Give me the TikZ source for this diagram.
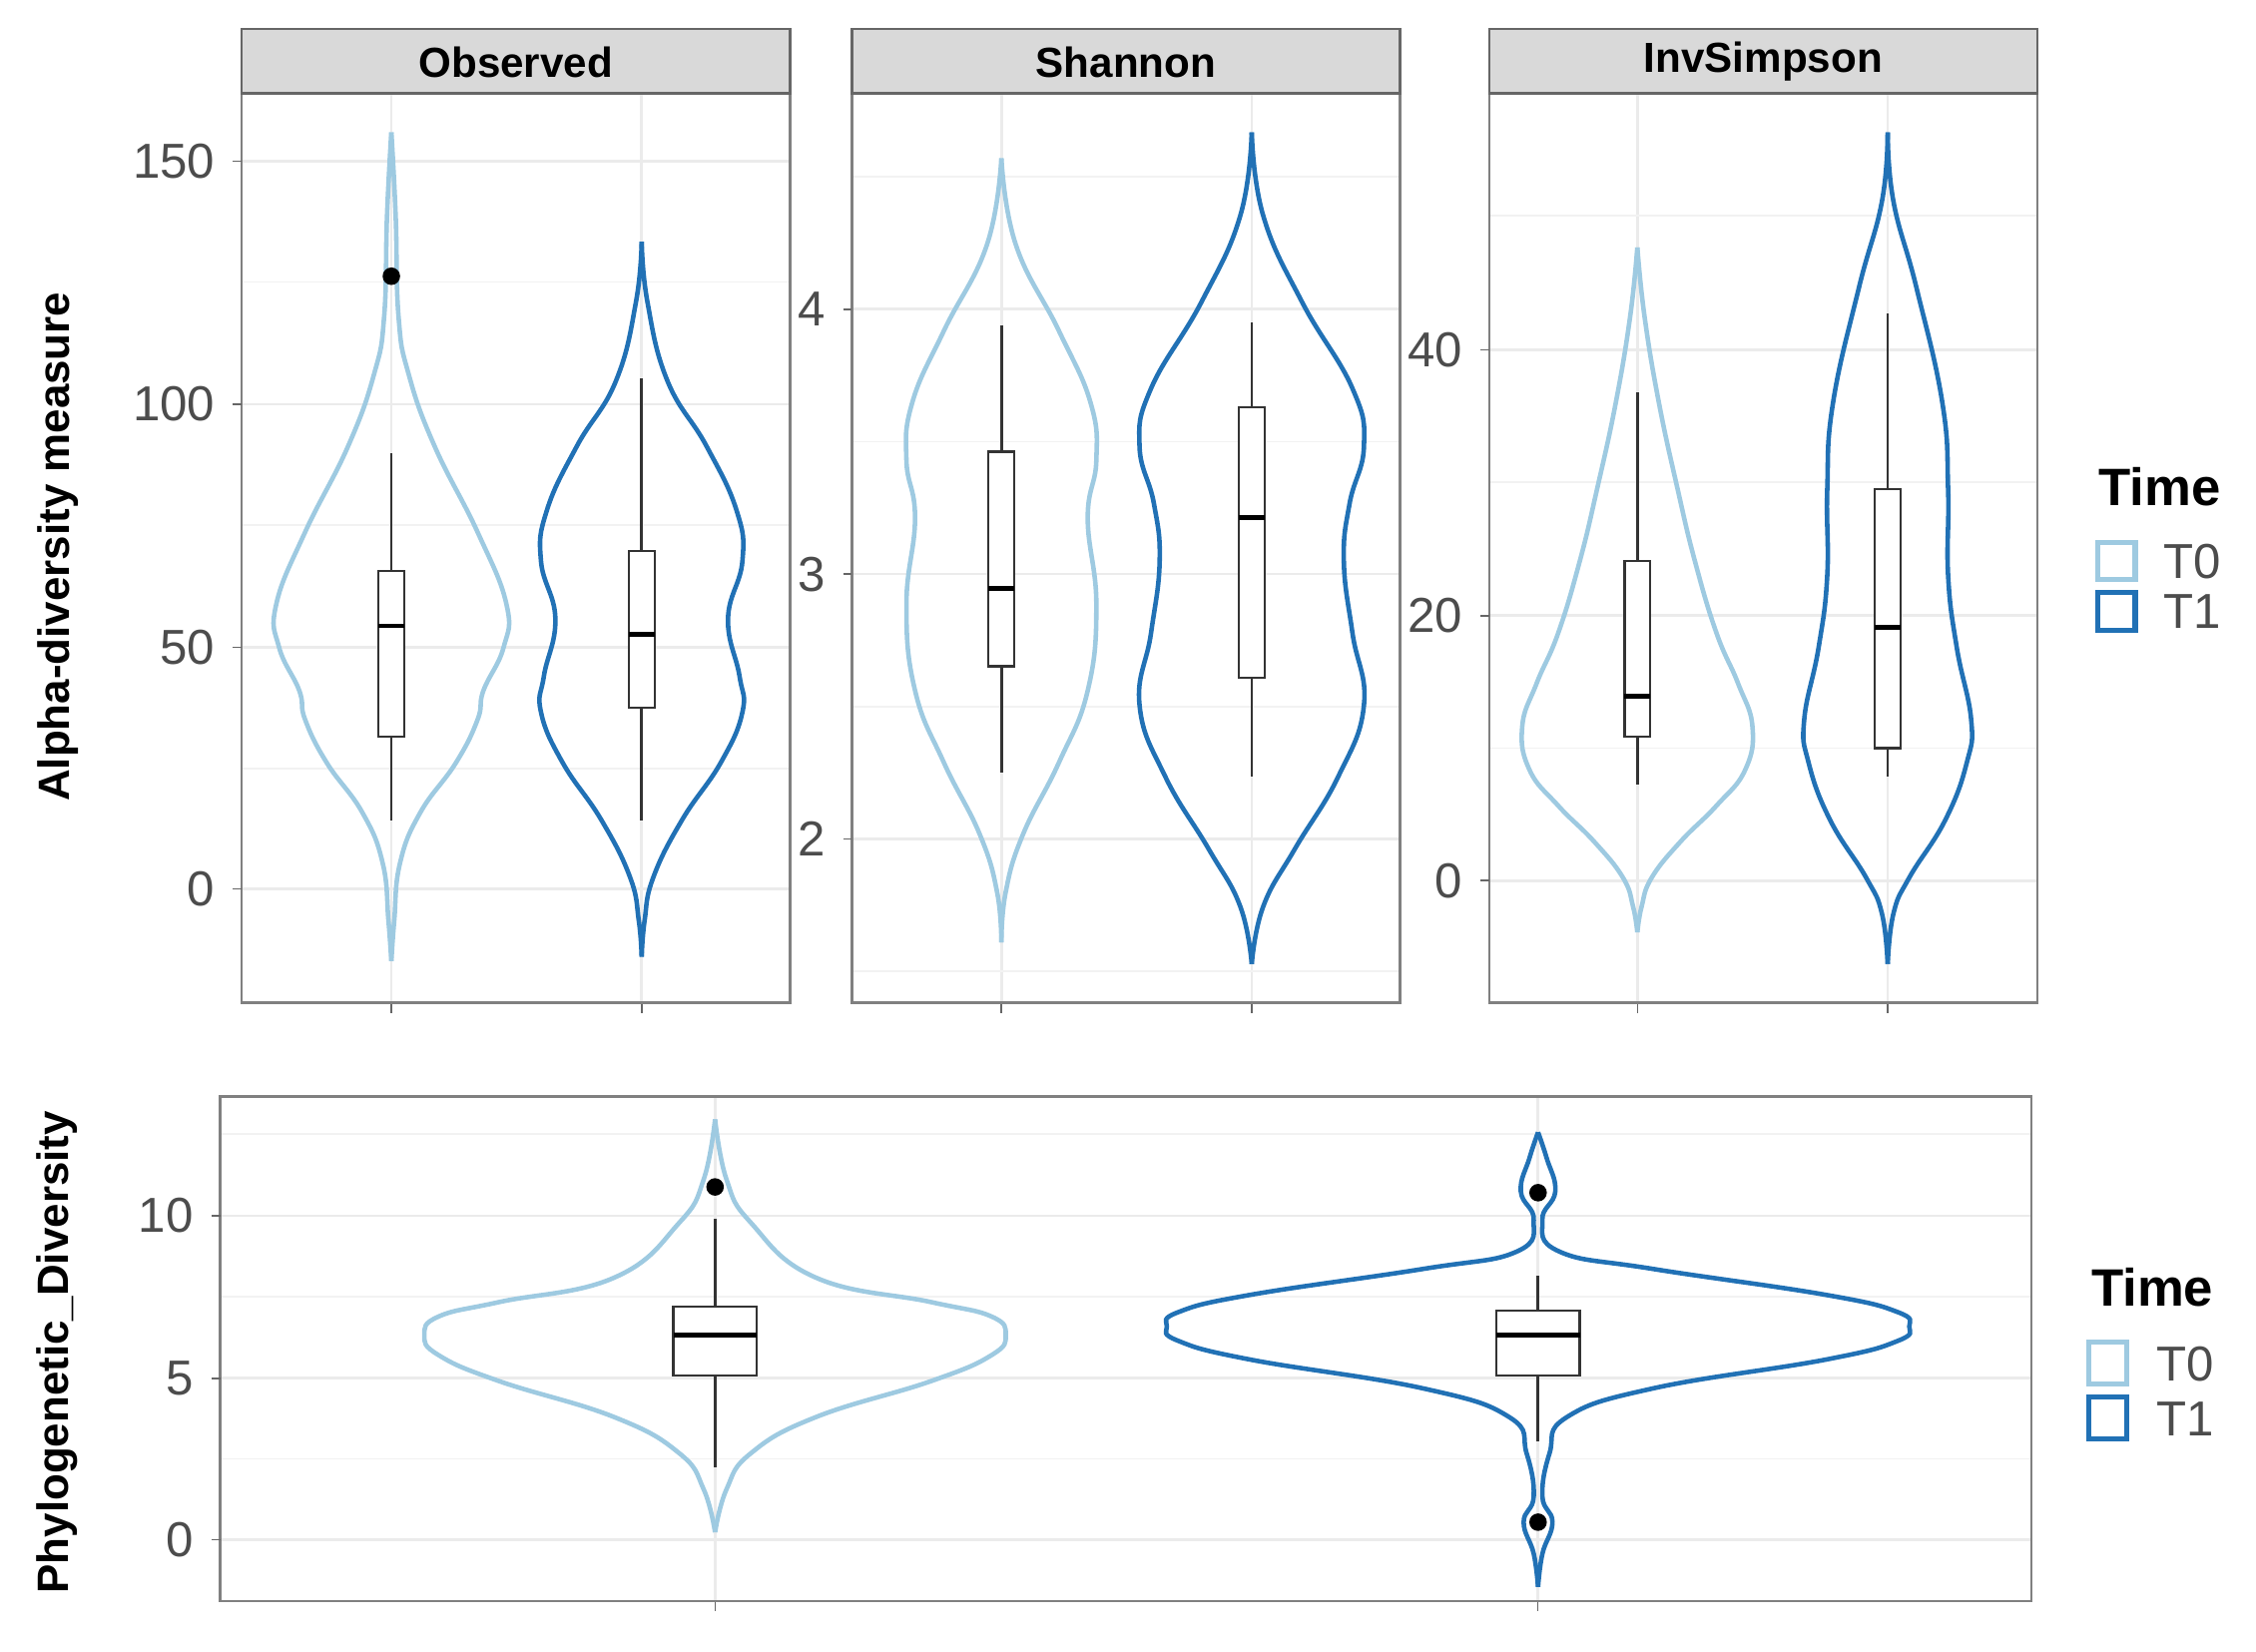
\documentclass[tikz,border=0pt]{standalone}
\usepackage{fontspec}
\setmainfont{Liberation Sans}
\begin{document}
\begin{tikzpicture}[x=0.014413cm,y=-0.014413cm,
  lb/.style={draw=c0,line width=1.3pt},
  db/.style={draw=c1,line width=1.3pt},
  panel/.style={draw=black!50,line width=0.7pt},
  strip/.style={draw=black!60,fill=black!15,line width=0.7pt},
  grid/.style={draw=black!8,line width=0.8pt},
  mgrid/.style={draw=black!5,line width=0.5pt},
  bx/.style={draw=black!80,fill=white,line width=0.7pt},
  med/.style={draw=black,line width=1.4pt},
  wh/.style={draw=black!80,line width=0.8pt},
  tick/.style={font=\fontsize{14}{16}\selectfont,text=black!70,anchor=east},
  st/.style={font=\bfseries\fontsize{12}{14}\selectfont},
  ttl/.style={font=\bfseries\fontsize{12.5}{14}\selectfont,rotate=90},
  dot/.style={fill=black,circle,inner sep=0pt,minimum size=5pt}]
\definecolor{c0}{HTML}{9ECAE1}
\definecolor{c1}{HTML}{2171B5}
\useasboundingbox (0,0) rectangle (1568,1148);
\newcommand\vio[3]{\begin{scope}[shift={(#2,0)}]
 \draw[#1] plot[smooth,tension=0.75] coordinates {#3};
 \draw[#1,xscale=-1] plot[smooth,tension=0.75] coordinates {#3};\end{scope}}
\newcommand\bxp[6]{% cx, wlo, whi, boxtop, boxbot, median
 \draw[wh] (#1,#2) -- (#1,#3);
 \draw[bx] (#1-9,#4) rectangle (#1+9,#5);
 \draw[med] (#1-9,#6) -- (#1+9,#6);}
% ---------- top panels grids
\foreach \xa/\c in {168/272,592/696,1035/1138}{
  \pgfmathsetmacro\d{\c+174}
  \draw[grid] (\c,65) -- (\c,697); \draw[grid] (\d,65) -- (\d,697);
  \draw[black!60] (\c,697) -- (\c,704); \draw[black!60] (\d,697) -- (\d,704);}
\foreach \y in {112,281,450,618}{\draw[grid] (168,\y) -- (549,\y);}
\foreach \y in {196,365,534}{\draw[mgrid] (168,\y) -- (549,\y);}
\foreach \y in {215,399,583}{\draw[grid] (592,\y) -- (973,\y);}
\foreach \y in {123,307,491,675}{\draw[mgrid] (592,\y) -- (973,\y);}
\foreach \y in {243,428,612}{\draw[grid] (1035,\y) -- (1416,\y);}
\foreach \y in {150,335,520}{\draw[mgrid] (1035,\y) -- (1416,\y);}
% violins top
\vio{lb}{272}{(0,92) (3,150) (5,220) (12,260) (30,310) (60,370) (80,420) (78,450) (64,480) (60,500) (45,530) (20,565) (6,600) (2,640) (0,668)}
\vio{db}{446}{(0,168) (4,210) (18,265) (45,310) (66,355) (70,390) (60,430) (68,470) (70,495) (55,530) (28,570) (8,610) (2,640) (0,665)}
\vio{lb}{696}{(0,110) (10,170) (40,230) (62,280) (66,320) (60,360) (66,420) (60,480) (40,530) (15,580) (3,620) (0,655)}
\vio{db}{870}{(0,92) (8,150) (35,210) (70,270) (78,310) (68,350) (64,390) (70,440) (78,490) (60,540) (30,590) (8,630) (0,670)}
\vio{lb}{1138}{(0,172) (5,220) (15,280) (28,340) (40,390) (55,440) (70,475) (80,505) (75,535) (55,560) (30,585) (10,610) (3,630) (0,648)}
\vio{db}{1312}{(0,92) (4,140) (20,200) (38,280) (42,340) (42,400) (48,450) (58,500) (55,530) (40,570) (15,610) (4,635) (0,670)}
\bxp{272}{315}{570}{397}{512}{435}
\bxp{446}{263}{570}{383}{492}{441}
\bxp{696}{226}{537}{314}{463}{409}
\bxp{870}{224}{540}{283}{471}{360}
\bxp{1138}{273}{545}{390}{512}{484}
\bxp{1312}{218}{540}{340}{520}{436}
\node[dot] (o1) at (272,192) {};
% panels and strips
\draw[panel] (168,65) rectangle (549,697);
\draw[panel] (592,65) rectangle (973,697);
\draw[panel] (1035,65) rectangle (1416,697);
\draw[strip] (168,20) rectangle (549,65); \node[st] (s1) at (358.5,43) {Observed};
\draw[strip] (592,20) rectangle (973,65); \node[st] (s2) at (782.5,43) {Shannon};
\draw[strip] (1035,20) rectangle (1416,65); \node[st] (s3) at (1225.5,43) {InvSimpson};
% ticks
\foreach \y/\t in {112/150,281/100,450/50,618/0}{\draw[black!60] (162,\y) -- (168,\y); \node[tick] at (158,\y) {\t};}
\foreach \y/\t in {215/4,399/3,583/2}{\draw[black!60] (586,\y) -- (592,\y); \node[tick] at (582,\y) {\t};}
\foreach \y/\t in {243/40,428/20,612/0}{\draw[black!60] (1029,\y) -- (1035,\y); \node[tick] at (1025,\y) {\t};}
\node[ttl] (yt1) at (40,380) {Alpha-diversity measure};
% ---------- bottom panel
\foreach \y in {845,958,1070}{\draw[grid] (153,\y) -- (1412,\y);}
\foreach \y in {788,901,1014}{\draw[mgrid] (153,\y) -- (1412,\y);}
\draw[grid] (497,762) -- (497,1113); \draw[grid] (1069,762) -- (1069,1113);
\draw[black!60] (497,1113) -- (497,1120); \draw[black!60] (1069,1113) -- (1069,1120);
\vio{lb}{497}{(0,778) (8,820) (25,850) (70,888) (150,905) (192,915) (202,928) (192,942) (150,960) (70,985) (25,1010) (8,1035) (0,1065)}
\vio{db}{1069}{(0,787) (6,805) (12,828) (3,848) (15,870) (80,882) (200,900) (250,912) (258,922) (250,932) (200,945) (80,965) (20,985) (8,1010) (3,1040) (10,1058) (3,1080) (0,1103)}
\draw[wh] (497,847) -- (497,1020); \draw[bx] (468,908) rectangle (526,956); \draw[med] (468,928) -- (526,928);
\draw[wh] (1069,887) -- (1069,1002); \draw[bx] (1040,911) rectangle (1098,956); \draw[med] (1040,928) -- (1098,928);
\node[dot] (o2) at (497,825) {};
\node[dot] (o3) at (1069,829) {};
\node[dot] (o4) at (1069,1058) {};
\draw[panel] (153,762) rectangle (1412,1113);
\foreach \y/\t in {845/10,958/5,1070/0}{\draw[black!60] (147,\y) -- (153,\y); \node[tick] at (143,\y) {\t};}
\node[ttl] (yt2) at (40,940) {Phylogenetic\_Diversity};
% ---------- legends
\node[font=\bfseries\fontsize{15}{17}\selectfont,anchor=west] (lg1) at (1450,338) {Time};
\draw[c0,line width=1.5pt] (1458,377) rectangle (1484,403); \node[tick,anchor=west] (l1a) at (1495,390) {T0};
\draw[c1,line width=1.5pt] (1458,412) rectangle (1484,438); \node[tick,anchor=west] (l1b) at (1495,425) {T1};
\node[font=\bfseries\fontsize{15}{17}\selectfont,anchor=west] (lg2) at (1445,895) {Time};
\draw[c0,line width=1.5pt] (1452,933) rectangle (1478,962); \node[tick,anchor=west] (l2a) at (1490,948) {T0};
\draw[c1,line width=1.5pt] (1452,971) rectangle (1478,1000); \node[tick,anchor=west] (l2b) at (1490,986) {T1};
\end{tikzpicture}
\end{document}
